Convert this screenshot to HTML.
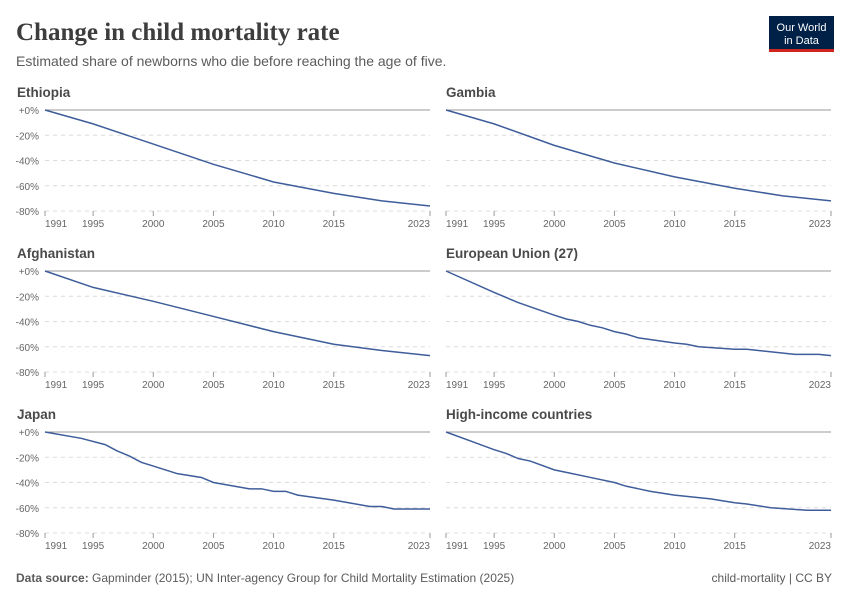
<!DOCTYPE html>
<html><head><meta charset="utf-8"><style>
body{margin:0;background:#fff;width:850px;height:600px;overflow:hidden;font-family:"Liberation Sans",sans-serif}
</style></head><body>
<svg id="s" width="850" height="600" xmlns="http://www.w3.org/2000/svg" font-family="Liberation Sans, sans-serif">
<text x="16" y="40" font-family="Liberation Serif, serif" font-size="25" font-weight="bold" fill="#3d3d3d">Change in child mortality rate</text>
<text x="16" y="66" font-size="14" fill="#5b5b5b">Estimated share of newborns who die before reaching the age of five.</text>
<rect x="769" y="16" width="65" height="36" fill="#002147"/>
<rect x="769" y="49" width="65" height="3" fill="#ce261e"/>
<text x="801.5" y="31" font-size="11" fill="#fff" text-anchor="middle">Our World</text>
<text x="801.5" y="44" font-size="11" fill="#fff" text-anchor="middle">in Data</text>
<text x="16" y="582" font-size="12" fill="#5b5b5b"><tspan font-weight="bold">Data source:</tspan> Gapminder (2015); UN Inter-agency Group for Child Mortality Estimation (2025)</text>
<text x="832" y="582" font-size="12" fill="#5b5b5b" text-anchor="end">child-mortality | CC BY</text>
</svg>
<script>
const s=document.getElementById('s');const NS='http://www.w3.org/2000/svg';
function el(t,a,txt){const e=document.createElementNS(NS,t);for(const k in a)e.setAttribute(k,a[k]);if(txt)e.textContent=txt;s.appendChild(e);return e;}
const panels=[
["Ethiopia",45,430,110,[[1991,0],[1995,-11],[2000,-27],[2005,-43],[2010,-57],[2015,-66],[2019,-72],[2023,-76]]],
["Gambia",446,831,110,[[1991,0],[1995,-11],[2000,-28],[2005,-42],[2010,-53],[2015,-62],[2019,-68],[2023,-72]]],
["Afghanistan",45,430,271,[[1991,0],[1995,-13],[2000,-24],[2005,-36],[2010,-48],[2015,-58],[2019,-63],[2023,-67]]],
["European Union (27)",446,831,271,[[1991,0],[1995,-17],[1997,-25],[2000,-35],[2001,-38],[2002,-40],[2003,-43],[2004,-45],[2005,-48],[2006,-50],[2007,-53],[2010,-57],[2011,-58],[2012,-60],[2015,-62],[2016,-62],[2020,-66],[2022,-66],[2023,-67]]],
["Japan",45,430,432,[[1991,0],[1994,-5],[1996,-10],[1997,-15],[1998,-19],[1999,-24],[2000,-27],[2002,-33],[2004,-36],[2005,-40],[2008,-45],[2009,-45],[2010,-47],[2011,-47],[2012,-50],[2015,-54],[2018,-59],[2019,-59],[2020,-61],[2023,-61]]],
["High-income countries",446,831,432,[[1991,0],[1993,-7],[1995,-14],[1996,-17],[1997,-21],[1998,-23],[2000,-30],[2001,-32],[2003,-36],[2005,-40],[2006,-43],[2007,-45],[2008,-47],[2010,-50],[2011,-51],[2012,-52],[2013,-53],[2015,-56],[2016,-57],[2018,-60],[2021,-62],[2023,-62]]]];
const k=101/80;
for(const [name,x0,x1,y0,d] of panels){
 const left=x0<100;
 const X=y=>x0+(y-1991)*(x1-x0)/32,Y=v=>y0-v*k;
 el('text',{x:left?17:446,y:y0-13,'font-size':13.5,'font-weight':'bold',fill:'#4a4a4a'},name);
 for(let i=0;i<=4;i++){const yy=y0+i*20*k;
  el('line',{x1:x0,x2:x1,y1:yy,y2:yy,stroke:i?'#dcdcdc':'#999','stroke-dasharray':i?'4,4':'', 'stroke-width':1});
  if(left)el('text',{x:x0-6,y:yy+4,'font-size':10,fill:'#666','text-anchor':'end'},(i?'-':'+')+(i*20)+'%');}
 for(const yr of [1991,1995,2000,2005,2010,2015,2023]){const xx=X(yr);
  el('line',{x1:xx,x2:xx,y1:y0+80*k,y2:y0+80*k+5,stroke:'#999'});
  el('text',{x:xx,y:y0+80*k+16,'font-size':10,fill:'#666','text-anchor':yr==1991?'start':yr==2023?'end':'middle'},yr);}
 el('polyline',{points:d.map(p=>X(p[0])+','+Y(p[1])).join(' '),fill:'none',stroke:'#3e5d9a','stroke-width':1.5});
}
</script>
</body></html>
